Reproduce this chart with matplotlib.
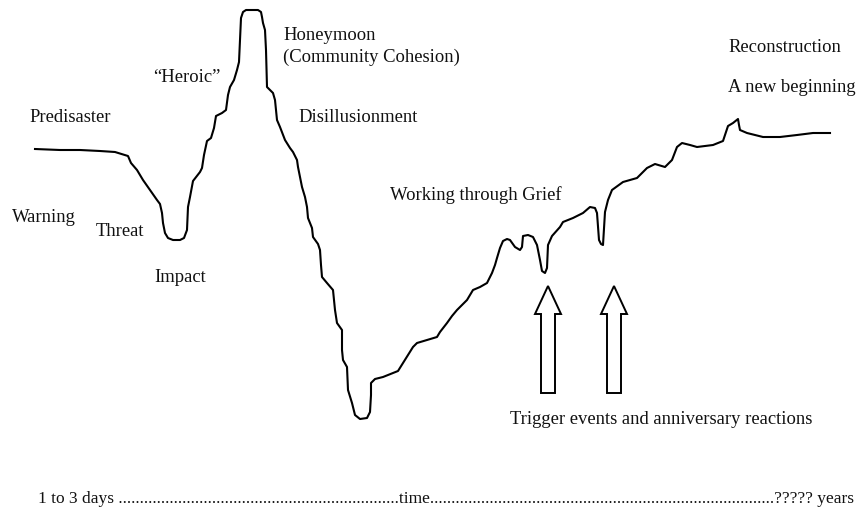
import matplotlib
matplotlib.use("Agg")
import matplotlib.pyplot as plt
from matplotlib.patches import FancyArrow

# Curve: time (horizontal, px units) vs. level (vertical, px units, top = 0)
time = [35, 60, 80, 100, 115, 125, 128, 131, 137, 143, 150, 157, 160, 162, 163, 165, 168, 173, 180, 184,
        187, 188, 190, 193, 200, 202, 204, 207, 211, 214, 216, 222, 226, 228, 230, 234, 237, 239, 240, 241,
        243, 246, 258, 261, 262, 263, 265, 266, 267, 273, 275, 277, 280, 285, 290, 293, 297, 298, 300, 302,
        305, 307, 308, 312, 313, 318, 320, 321, 322, 327, 333, 334, 335, 337, 342, 342, 343, 347, 348, 352,
        355, 360, 367, 370, 371, 371, 375, 383, 393, 398, 403, 408, 413, 417, 427, 437, 440, 447, 452, 457,
        462, 467, 473, 480, 487, 492, 495, 497, 500, 503, 507, 510, 515, 520, 522, 523, 528, 533, 537, 540,
        542, 545, 547, 548, 552, 560, 563, 573, 583, 590, 595, 597, 598, 599, 601, 603, 604, 605, 608, 612,
        623, 637, 642, 647, 655, 665, 672, 677, 682, 690, 697, 705, 713, 723, 726, 728, 733, 738, 739, 740,
        747, 755, 763, 780, 797, 813, 830]
level = [149, 150, 150, 151, 152, 155, 156, 163, 170, 180, 190, 200, 204, 213, 223, 233, 238, 240, 240, 238,
         230, 207, 197, 181, 172, 168, 155, 141, 138, 128, 116, 113, 110, 95, 87, 80, 70, 62, 40, 18,
         12, 10, 10, 12, 17, 23, 30, 50, 87, 93, 100, 120, 127, 140, 148, 152, 160, 167, 177, 187,
         197, 207, 218, 228, 237, 244, 250, 265, 277, 283, 290, 300, 310, 323, 330, 350, 360, 367, 390, 403,
         415, 419, 418, 412, 395, 383, 379, 377, 373, 371, 363, 355, 347, 343, 340, 337, 332, 323, 316, 310,
         305, 300, 290, 287, 283, 273, 265, 258, 248, 241, 239, 240, 247, 250, 247, 236, 235, 237, 245, 260,
         271, 273, 268, 245, 236, 227, 222, 218, 213, 207, 208, 213, 227, 240, 244, 245, 228, 212, 200, 190,
         182, 178, 173, 168, 164, 167, 160, 147, 143, 145, 147, 146, 145, 141, 132, 126, 123, 119, 125, 130,
         133, 135, 137, 137, 135, 133, 133]

# Trigger arrows: x centre, tip y, base y
arrow_x = [548, 614]
arrow_tip = [286, 286]
arrow_base = [393, 393]

labels = [
    ("Predisaster", 29, 118),
    ("Warning", 12, 217),
    ("Threat", 96, 232),
    ("Impact", 154, 277),
    ("\u201cHeroic\u201d", 153, 77),
    ("Honeymoon", 283, 36),
    ("(Community Cohesion)", 283, 57),
    ("Disillusionment", 298, 118),
    ("Working through Grief", 390, 195),
    ("Reconstruction", 728, 48),
    ("A new beginning", 728, 88),
    ("Trigger events and anniversary reactions", 510, 419),
]

W, H = 859, 512
fig = plt.figure(figsize=(W / 100, H / 100), dpi=100)
ax = fig.add_axes([0, 0, 1, 1])
ax.set_xlim(0, W)
ax.set_ylim(H, 0)
ax.axis("off")

ax.plot(time, level, color="black", lw=1.5, solid_joinstyle="round")

for x, t, b in zip(arrow_x, arrow_tip, arrow_base):
    ax.add_patch(FancyArrow(x, b, 0, t - b, width=14, head_width=26, head_length=28,
                            length_includes_head=True, facecolor="white", edgecolor="black",
                            lw=1.4))

font = dict(family="Liberation Serif", fontsize=13.4, color="#111111")
for txt, x, y in labels:
    ax.text(x, y, txt, ha="left", va="center", **font)

bfont = dict(font, fontsize=12.5)
ax.text(38, 499, "1 to 3 days " + "." * 66 + "time" + "." * 81 + "????? years",
        ha="left", va="center", **bfont)

fig.savefig("out.png", dpi=100)
